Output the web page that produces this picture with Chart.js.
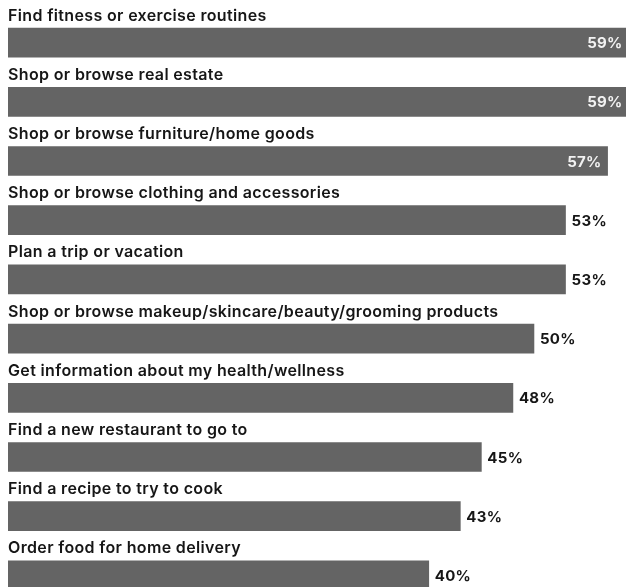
<!DOCTYPE html>
<html>
<head>
<meta charset="utf-8">
<script src="https://cdn.jsdelivr.net/npm/chart.js@4"></script>
<style>
  html, body { margin: 0; padding: 0; background: #fff; overflow: hidden; }
  #wrap { position: relative; width: 626px; height: 605px; }
</style>
</head>
<body>
<div id="wrap"><canvas id="c"></canvas></div>
<script>
const categories = [
  "Find fitness or exercise routines",
  "Shop or browse real estate",
  "Shop or browse furniture/home goods",
  "Shop or browse clothing and accessories",
  "Plan a trip or vacation",
  "Shop or browse makeup/skincare/beauty/grooming products",
  "Get information about my health/wellness",
  "Find a new restaurant to go to",
  "Find a recipe to try to cook",
  "Order food for home delivery"
];
const values = [59, 59, 57, 53, 53, 50, 48, 45, 43, 40];
const valueLabels = ["59%", "59%", "57%", "53%", "53%", "50%", "48%", "45%", "43%", "40%"];

const BAR_COLOR = "#646464";
const TEXT_COLOR = "#161616";
const LABEL_FONT = "600 16px Inter, 'Open Sans', sans-serif";
const VALUE_FONT = "700 15px Inter, 'Open Sans', sans-serif";

const labelPlugin = {
  id: "barLabels",
  afterDatasetsDraw(chart) {
    const ctx = chart.ctx;
    const meta = chart.getDatasetMeta(0);
    const W = chart.width;
    ctx.save();
    meta.data.forEach((bar, i) => {
      ctx.font = LABEL_FONT;
      ctx.letterSpacing = "0.35px";
      ctx.fillStyle = TEXT_COLOR;
      ctx.textAlign = "left";
      ctx.textBaseline = "alphabetic";
      ctx.fillText(categories[i], chart.chartArea.left, bar.y - 22);
      ctx.font = VALUE_FONT;
      ctx.letterSpacing = "0.3px";
      ctx.textBaseline = "middle";
      const txt = valueLabels[i];
      const w = ctx.measureText(txt).width;
      if (bar.x + 6 + w > W) {
        ctx.fillStyle = "#f2f2f2";
        ctx.textAlign = "right";
        ctx.fillText(txt, bar.x - 6, bar.y + 1);
      } else {
        ctx.fillStyle = TEXT_COLOR;
        ctx.textAlign = "left";
        ctx.fillText(txt, bar.x + 6, bar.y + 1);
      }
    });
    ctx.restore();
  }
};

new Chart(document.getElementById("c"), {
  type: "bar",
  data: {
    labels: categories,
    datasets: [{
      data: values,
      backgroundColor: BAR_COLOR,
      borderWidth: 0,
      barThickness: 29
    }]
  },
  options: {
    indexAxis: "y",
    responsive: true,
    maintainAspectRatio: false,
    animation: false,
    layout: { padding: { left: 8, right: 0, top: 13, bottom: 0 } },
    plugins: { legend: { display: false }, tooltip: { enabled: false } },
    scales: {
      x: { display: false, min: 0, max: 58.75, grid: { display: false } },
      y: { display: false, grid: { display: false } }
    }
  },
  plugins: [labelPlugin]
});
</script>
</body>
</html>
